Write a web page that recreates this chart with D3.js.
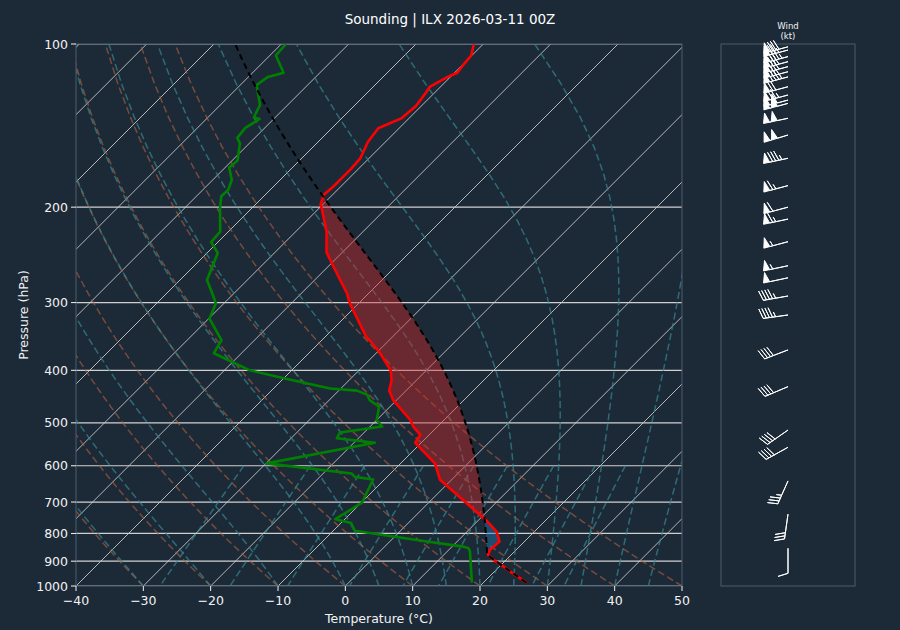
<!DOCTYPE html>
<html><head><meta charset="utf-8">
<script src="https://cdn.jsdelivr.net/npm/d3@7/dist/d3.min.js"></script>
<style>
body{margin:0;background:#1c2a38;}
svg{display:block;font-family:"DejaVu Sans",sans-serif;}
</style></head><body>
<svg id="c" width="900" height="630"></svg>
<script>
// ---------------- data ----------------
const titleText = "Sounding | ILX 2026-03-11 00Z";
const tempP = [986,950,925,900,877,858,828,794,757,745,637,594,549,544,526,508,494,454,436,417,400,370,352,347,301,288,256,242,222,201,198,190,183,177,170,162.5,151.5,143,137,130,123,120,115,113,109,105,100];
const tempT = [26.4,23.2,21.0,18.6,16.6,16.1,16.3,14.4,11.2,10.0,-1.7,-4.9,-10.3,-10.9,-11.3,-13.6,-15.0,-20.5,-22.5,-23.7,-25.3,-29.7,-32.9,-33.9,-41.3,-43.3,-49.5,-52.4,-55.4,-59.6,-60.3,-61.3,-61.1,-61.1,-61.1,-61.3,-62.6,-63.1,-61.1,-60.8,-61.3,-61.6,-60.4,-59.6,-59.9,-60.1,-61.4];
const dewP = [986,864,852,846,828,791,765,753,702,636,629,620,594,544,534,521,508,494,467,454,444,436,432,415,400,372,352,321,301,288,272.5,243,232,222,201,191,186,178,169,164,152.5,149,143,137.5,136.5,129.6,119,115,113,105,100];
const dewT = [18.3,13.4,12.7,11.7,5.5,-6.8,-8.5,-11.4,-9.9,-11.7,-14.8,-15.8,-29.9,-16.9,-23.2,-23.6,-18.2,-20.0,-21.6,-24.0,-25.1,-27.3,-31.6,-39.4,-46.2,-54.1,-54.9,-59.9,-61.2,-63.3,-66.0,-68.4,-71.0,-71.2,-74.7,-76.3,-76.2,-77.2,-79.4,-79.2,-81.4,-82.6,-82.9,-82.1,-83.2,-84.1,-87.6,-87.1,-85.4,-89.1,-89.3];
const windP = [101.2,102.6,105.5,107.8,110.1,112.5,115,119.9,124.2,126.9,128.7,137.1,147.2,162.5,182.5,200,210.4,231.6,256.5,270,291.7,316.2,366.8,428.7,515.5,554.7,640,737,852];
const windSpd = [80,75,85,80,80,75,85,70,75,100,100,100,100,85,65,60,65,55,55,50,45,45,40,40,40,40,35,30,10];
const windDir = [255,255,255,255,255,255,255,255,255,255,255,258,253,258,255,255,258,255,258,258,260,262,249,247,235,241,204,188,180];
const pTicks = [100,200,300,400,500,600,700,800,900,1000];
const tTicks = [-40,-30,-20,-10,0,10,20,30,40,50];
const mixRatios = [0.0004,0.001,0.002,0.004,0.007,0.01,0.016,0.024,0.032];

// ---------------- layout ----------------
const L=76,R=682,T=44,B=586;
const svg = d3.select("#c");
const bg = "#1c2a38";
svg.append("rect").attr("width",900).attr("height",630).attr("fill",bg);
const x = d3.scaleLinear().domain([-40,50]).range([L,R]);
const y = d3.scaleLog().domain([1000,100]).range([B,T]);
const sx = (t,p) => x(t) + (B - y(p));

// ---------------- thermodynamics for reference lines ----------------
const Rd=287.04749, Cp=1004.6662, Lv=2.50084e6, eps=0.6219569, kap=Rd/Cp;
const es = tc => 6.112*Math.exp(17.67*tc/(tc+243.5));
const rs = (tc,p) => { const e=es(tc); return eps*e/(p-e); };
const dTdp = (p,tK) => { const r=rs(tK-273.15,p); return (1/p)*(Rd*tK+Lv*r)/(Cp+(Lv*Lv*r*eps)/(Rd*tK*tK)); };
function moistFrom(tC,p0,pList){
  let tK=tC+273.15, p=p0; const out=[];
  for(const pt of pList){
    const n=Math.max(1,Math.ceil(Math.abs(pt-p)/2)); const h=(pt-p)/n;
    for(let i=0;i<n;i++){
      const k1=dTdp(p,tK),k2=dTdp(p+h/2,tK+h/2*k1),k3=dTdp(p+h/2,tK+h/2*k2),k4=dTdp(p+h,tK+h*k3);
      tK+=h/6*(k1+2*k2+2*k3+k4); p+=h;
    }
    out.push(tK-273.15);
  }
  return out;
}
const dewFromE = e => { const l=Math.log(e/6.112); return 243.5*l/(17.67-l); };

const defs = svg.append("defs");
defs.append("clipPath").attr("id","clip").append("rect").attr("x",L).attr("y",T).attr("width",R-L).attr("height",B-T);
const plot = svg.append("g").attr("clip-path","url(#clip)");
const line = d3.line().x(d=>sx(d[0],d[1])).y(d=>y(d[1]));

const pLin = d3.range(50).map(i=>1000-(900*i/49));
// isotherms (skewed grid)
for(let t=-130;t<=50;t+=10){
  plot.append("line").attr("x1",sx(t,1000)).attr("y1",y(1000)).attr("x2",sx(t,100)).attr("y2",y(100))
    .attr("stroke","#c8c8c8").attr("stroke-width",1).attr("opacity",0.9);
}
// horizontal grid
pTicks.forEach(p=>{
  plot.append("line").attr("x1",L).attr("x2",R).attr("y1",y(p)).attr("y2",y(p))
    .attr("stroke","#d0d0d0").attr("stroke-width",1.2);
});
// dry adiabats
for(let t0=-40;t0<=50;t0+=10){
  const pts=pLin.map(p=>[(t0+273.15)*Math.pow(p/1000,kap)-273.15,p]);
  plot.append("path").attr("d",line(pts)).attr("fill","none").attr("stroke","#b5603f").attr("stroke-opacity",0.6)
    .attr("stroke-width",1.5).attr("stroke-dasharray","7,3.5");
}
// moist adiabats
const mT0=[-40,-30,-20,-10].concat(d3.range(0,51,5));
mT0.forEach(t0=>{
  const ts=moistFrom(t0,1000,pLin);
  plot.append("path").attr("d",line(ts.map((t,i)=>[t,pLin[i]]))).attr("fill","none").attr("stroke","#368891").attr("stroke-opacity",0.7)
    .attr("stroke-width",1.5).attr("stroke-dasharray","7,3.5");
});
// mixing ratio lines
const pMix=d3.range(50).map(i=>600+400*i/49);
mixRatios.forEach(w=>{
  const pts=pMix.map(p=>[dewFromE(w*p/(eps+w)),p]);
  plot.append("path").attr("d",line(pts)).attr("fill","none").attr("stroke","#368891").attr("stroke-opacity",0.7)
    .attr("stroke-width",1.5).attr("stroke-dasharray","7,3.5");
});

// ---------------- parcel ----------------
const p0=tempP[0], t0=tempT[0], td0=dewT[0];
const w0=rs(td0,p0), T0K=t0+273.15;
let pl=p0;
for(let i=0;i<50;i++){ const td=dewFromE(w0*pl/(eps+w0)); pl=p0*Math.pow((td+273.15)/T0K,1/kap); }
const tLcl=T0K*Math.pow(pl/p0,kap)-273.15;
const pFine=[]; for(let p=p0;p>=100;p-=0.5) pFine.push(p); if(pFine[pFine.length-1]!==100) pFine.push(100);
const below=pFine.filter(p=>p>=pl), above=pFine.filter(p=>p<pl);
const parcelT=below.map(p=>T0K*Math.pow(p/p0,kap)-273.15).concat(moistFrom(tLcl,pl,above));
const lp=tempP.map(p=>Math.log(p));
function envT(p){
  const l=Math.log(p);
  for(let i=0;i<lp.length-1;i++){ if(l<=lp[i]&&l>=lp[i+1]){ const f=(l-lp[i])/(lp[i+1]-lp[i]); return tempT[i]+f*(tempT[i+1]-tempT[i]); } }
  return tempT[tempT.length-1];
}
const fine=pFine.map((p,i)=>({p,t:envT(p),tp:parcelT[i]}));
// LFC and EL
let lfc=null, el=null;
for(const d of fine){ if(d.p<pl && d.tp>d.t){ if(lfc===null) lfc=d.p; el=d.p; } }
const area=d3.area().y(d=>y(d.p)).x0(d=>sx(d.t,d.p)).x1(d=>sx(d.tp,d.p));
plot.append("path").attr("d",area.defined(d=>d.p<=lfc&&d.p>=el&&d.tp>=d.t)(fine))
  .attr("fill","#d62728").attr("fill-opacity",0.42);
plot.append("path").attr("d",d3.area().y(d=>y(d.p)).x0(d=>sx(d.t,d.p)).x1(d=>sx(d.tp,d.p)).defined(d=>d.p>lfc&&d.t-d.tp>0.05)(fine))
  .attr("fill","#1f77b4").attr("fill-opacity",0.45);

// profiles
plot.append("path").attr("d",line(tempP.map((p,i)=>[tempT[i],p]))).attr("fill","none").attr("stroke","#ff0000").attr("stroke-width",2.6).attr("stroke-linejoin","round");
plot.append("path").attr("d",line(dewP.map((p,i)=>[dewT[i],p]))).attr("fill","none").attr("stroke","#008000").attr("stroke-width",2.6).attr("stroke-linejoin","round");
plot.append("path").attr("d",line(fine.map(d=>[d.tp,d.p]))).attr("fill","none").attr("stroke","#000").attr("stroke-width",2).attr("stroke-dasharray","6,4");

// frame
svg.append("rect").attr("x",L).attr("y",T).attr("width",R-L).attr("height",B-T).attr("fill","none").attr("stroke","#4d5d6d").attr("stroke-width",1);

// axes
const tc="#f2f2f2";
pTicks.forEach(p=>{
  svg.append("line").attr("x1",L-5).attr("x2",L).attr("y1",y(p)).attr("y2",y(p)).attr("stroke",tc);
  svg.append("text").attr("x",L-8).attr("y",y(p)+4.5).attr("text-anchor","end").attr("fill",tc).attr("font-size",12.5).text(p);
});
tTicks.forEach(t=>{
  svg.append("line").attr("x1",x(t)).attr("x2",x(t)).attr("y1",B).attr("y2",B+5).attr("stroke",tc);
  svg.append("text").attr("x",x(t)).attr("y",B+19).attr("text-anchor","middle").attr("fill",tc).attr("font-size",12.5).text(t<0?"\u2212"+(-t):t);
});
svg.append("text").attr("x",(L+R)/2).attr("y",623).attr("text-anchor","middle").attr("fill",tc).attr("font-size",12.5).text("Temperature (°C)");
svg.append("text").attr("transform",`translate(28,${(T+B)/2}) rotate(-90)`).attr("text-anchor","middle").attr("fill",tc).attr("font-size",12.5).text("Pressure (hPa)");
svg.append("text").attr("x",450).attr("y",24).attr("text-anchor","middle").attr("fill","#ffffff").attr("font-size",13.5).text(titleText);

// ---------------- wind panel ----------------
const WL=721, WR=855;
svg.append("rect").attr("x",WL).attr("y",T).attr("width",WR-WL).attr("height",B-T).attr("fill","none").attr("stroke","#4d5d6d");
svg.append("text").attr("x",(WL+WR)/2).attr("y",29).attr("text-anchor","middle").attr("fill",tc).attr("font-size",8.5).text("Wind");
svg.append("text").attr("x",(WL+WR)/2).attr("y",39).attr("text-anchor","middle").attr("fill",tc).attr("font-size",8.5).text("(kt)");
const tipX=788;
function barb(spd,dir){
  const s=Math.round(spd/5)*5;
  const nf=Math.floor(s/50); let rem=s-nf*50; const nb=Math.floor(rem/10); rem-=nb*10; const half=rem>=5;
  const Lb=25,h=10,w=6.25,sp=3.125;
  const v=[[0,0]]; let off=Lb;
  for(let i=0;i<nf;i++){ if(off!==Lb) off+=sp/2; v.push([0,off],[h,off-w/2],[0,off-w]); off-=w+sp; }
  for(let i=0;i<nb;i++){ v.push([0,off],[h,off+w/2],[0,off]); off-=sp; }
  if(half){ if(off===Lb){ v.push([0,off]); off-=1.5*sp; } v.push([0,off],[h/2,off+w/4],[0,off]); }
  if(v.length===1) v.push([0,Lb]);
  const r=dir*Math.PI/180, u=-Math.sin(r), vv=-Math.cos(r);
  const a=Math.atan2(vv,u)+Math.PI/2, c=Math.cos(a), sn=Math.sin(a);
  return v.map(([px,py])=>[px*c-py*sn, px*sn+py*c]);
}
const wg=svg.append("g");
windP.forEach((p,i)=>{
  const pts=barb(windSpd[i],windDir[i]).map(([X,Y])=>[tipX+X,y(p)-Y]);
  wg.append("path").attr("d","M"+pts.map(q=>q[0].toFixed(2)+","+q[1].toFixed(2)).join("L")+"Z")
    .attr("fill","#ffffff").attr("stroke","#ffffff").attr("stroke-width",1).attr("stroke-linejoin","miter");
});
</script>
</body></html>
